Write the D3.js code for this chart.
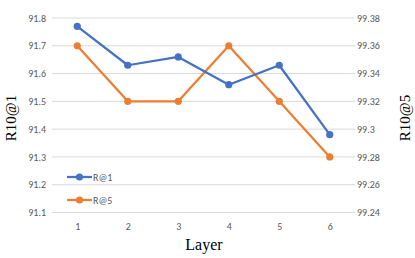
<!DOCTYPE html>
<html><head><meta charset="utf-8">
<script src="https://cdn.jsdelivr.net/npm/d3@7"></script>
<style>body{margin:0;background:#fff}</style>
</head><body>
<svg id="c" width="415" height="258"></svg>
<script>
const layers = ["1","2","3","4","5","6"];
const r1 = [91.77, 91.63, 91.66, 91.56, 91.63, 91.38];
const r5 = [99.36, 99.32, 99.32, 99.36, 99.32, 99.28];
const leftTicks = [91.1,91.2,91.3,91.4,91.5,91.6,91.7,91.8];
const rightTicks = [99.24,99.26,99.28,99.30,99.32,99.34,99.36,99.38];

const svg = d3.select("#c");
const L = 52, R = 355, T = 18, B = 212.5;
const x = d3.scalePoint().domain(layers).range([L, R]).padding(0.5);
const yL = d3.scaleLinear().domain([91.1, 91.8]).range([B, T]);
const yR = d3.scaleLinear().domain([99.24, 99.38]).range([B, T]);
const tickFont = "Calibri, Carlito, 'Liberation Sans', Arial, sans-serif";

// gridlines
svg.append("g").selectAll("line").data(leftTicks).join("line")
  .attr("x1", L).attr("x2", R)
  .attr("y1", d => yL(d)).attr("y2", d => yL(d))
  .attr("stroke", "#d9d9d9").attr("stroke-width", 1);

// left axis
const gl = svg.append("g").attr("transform", `translate(${L},0)`)
  .call(d3.axisLeft(yL).tickValues(leftTicks).tickFormat(d3.format(".1f")).tickSize(0).tickPadding(6));
gl.select(".domain").remove();
gl.selectAll("text").attr("fill", "#595959").style("font-size", "10px").style("font-family", tickFont);

// right axis
const fmtR = d => { let s = d.toFixed(2); return s.replace(/0$/, ""); };
const gr = svg.append("g").attr("transform", `translate(${R},0)`)
  .call(d3.axisRight(yR).tickValues(rightTicks).tickFormat(fmtR).tickSize(0).tickPadding(2));
gr.select(".domain").remove();
gr.selectAll("text").attr("fill", "#595959").style("font-size", "10px").style("font-family", tickFont);

// bottom axis
const gb = svg.append("g").attr("transform", `translate(0,${B})`)
  .call(d3.axisBottom(x).tickSize(0).tickPadding(10));
gb.select(".domain").remove();
gb.selectAll("text").attr("fill", "#595959").style("font-size", "10px").style("font-family", tickFont);

// series
function series(data, y, color) {
  const g = svg.append("g");
  g.append("path").datum(data)
    .attr("d", d3.line().x((d,i) => x(layers[i])).y(d => y(d)))
    .attr("fill", "none").attr("stroke", color).attr("stroke-width", 2.25).attr("stroke-linejoin", "round");
  g.selectAll("circle").data(data).join("circle")
    .attr("cx", (d,i) => x(layers[i])).attr("cy", d => y(d)).attr("r", 3.6).attr("fill", color);
}
series(r5, yR, "#ED7D31");
series(r1, yL, "#4472C4");

// legend
const legend = [{name:"R@1", color:"#4472C4", y:177},{name:"R@5", color:"#ED7D31", y:200}];
legend.forEach(l => {
  svg.append("line").attr("x1", 67).attr("x2", 92).attr("y1", l.y).attr("y2", l.y)
    .attr("stroke", l.color).attr("stroke-width", 2.25);
  svg.append("circle").attr("cx", 79.5).attr("cy", l.y).attr("r", 3.6).attr("fill", l.color);
  svg.append("text").attr("x", 93).attr("y", l.y + 3.5).text(l.name)
    .attr("fill", "#595959").style("font-size", "10px").style("font-family", tickFont);
});

// titles
const serif = "'Liberation Serif', 'Times New Roman', serif";
svg.append("text").attr("transform", "translate(16,118) rotate(-90)").attr("text-anchor", "middle")
  .style("font-family", serif).style("font-size", "15px").attr("fill", "#000").text("R10@1");
svg.append("text").attr("transform", "translate(410,118) rotate(-90)").attr("text-anchor", "middle")
  .style("font-family", serif).style("font-size", "15px").attr("fill", "#000").text("R10@5");
svg.append("text").attr("x", 204).attr("y", 250).attr("text-anchor", "middle")
  .style("font-family", serif).style("font-size", "16px").attr("fill", "#000").text("Layer");
</script>
</body></html>
